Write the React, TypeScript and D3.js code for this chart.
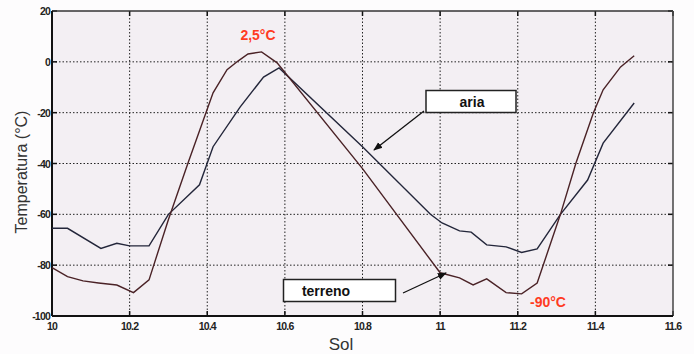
import React from "react";
import * as d3 from "d3";

const terrenoSol = [10.0, 10.04, 10.08, 10.12, 10.167, 10.21, 10.25, 10.3, 10.35, 10.415, 10.451, 10.48, 10.505, 10.54, 10.58, 10.8, 11.0, 11.05, 11.085, 11.12, 11.17, 11.21, 11.25, 11.31, 11.35, 11.395, 11.42, 11.465, 11.5];
const terrenoTemp = [-81, -84.5, -86.2, -87, -87.8, -90.8, -85.8, -62, -40, -12.2, -3.1, 0.4, 3.1, 3.9, -0.4, -42, -83, -85, -87.8, -85.4, -90.8, -91.3, -87, -60, -39.8, -20, -11, -2, 2.4];

const ariaSol = [10.0, 10.04, 10.126, 10.167, 10.2, 10.25, 10.3, 10.38, 10.415, 10.485, 10.545, 10.585, 10.8, 10.975, 11.005, 11.05, 11.08, 11.12, 11.17, 11.21, 11.25, 11.31, 11.38, 11.42, 11.5];
const ariaTemp = [-65.5, -65.5, -73.4, -71.4, -72.4, -72.4, -60, -48.4, -33.4, -17.7, -6, -2.4, -33.4, -60, -63.4, -66.5, -67, -72, -72.8, -75, -73.6, -60, -46.5, -32, -16.2];

const xTicks = [10, 10.2, 10.4, 10.6, 10.8, 11, 11.2, 11.4, 11.6];
const xTickLabels = ["10", "10.2", "10.4", "10.6", "10.8", "11", "11.2", "11.4", "11.6"];
const yTicks = [20, 0, -20, -40, -60, -80, -100];

const W = 694, H = 354;
const L = 52, R = 673, T = 11, B = 316;

export default function App() {
  const x = d3.scaleLinear().domain([10, 11.6]).range([L, R]);
  const y = d3.scaleLinear().domain([-100, 20]).range([B, T]);
  const line = d3.line<[number, number]>().x(d => x(d[0])).y(d => y(d[1]));
  const terreno = terrenoSol.map((s, i) => [s, terrenoTemp[i]] as [number, number]);
  const aria = ariaSol.map((s, i) => [s, ariaTemp[i]] as [number, number]);
  const font = "'Liberation Sans', Arial, sans-serif";

  return (
    <svg width={W} height={H} style={{ position: "fixed", left: 0, top: 0, background: "#fdfcfd" }}>
      <defs>
        <marker id="arr" viewBox="0 0 10 10" refX="9" refY="5" markerWidth="9" markerHeight="9" orient="auto" markerUnits="userSpaceOnUse">
          <path d="M0,1 L10,5 L0,9 z" fill="#111" />
        </marker>
      </defs>
      <rect x={L} y={T} width={R - L} height={B - T} fill="#f3eff3" />
      {xTicks.slice(1, -1).map(t => (
        <line key={"gx" + t} x1={x(t)} x2={x(t)} y1={T} y2={B} stroke="#222" strokeWidth={1} strokeDasharray="1.5,2" />
      ))}
      {yTicks.slice(1, -1).map(t => (
        <line key={"gy" + t} x1={L} x2={R} y1={y(t)} y2={y(t)} stroke="#222" strokeWidth={1} strokeDasharray="1.5,2" />
      ))}
      {xTicks.map(t => (
        <g key={"tx" + t}>
          <line x1={x(t)} x2={x(t)} y1={B} y2={B - 5} stroke="#111" strokeWidth={1.5} />
          <line x1={x(t)} x2={x(t)} y1={T} y2={T + 5} stroke="#111" strokeWidth={1.5} />
        </g>
      ))}
      {yTicks.map(t => (
        <g key={"ty" + t}>
          <line x1={L} x2={L + 5} y1={y(t)} y2={y(t)} stroke="#111" strokeWidth={1.5} />
          <line x1={R} x2={R - 5} y1={y(t)} y2={y(t)} stroke="#111" strokeWidth={1.5} />
        </g>
      ))}
      <line x1={L} x2={R} y1={T} y2={T} stroke="#333" strokeWidth={1.5} />
      <line x1={R} x2={R} y1={T} y2={B} stroke="#444" strokeWidth={1.5} />
      <line x1={L} x2={L} y1={T} y2={B} stroke="#111" strokeWidth={2} />
      <line x1={L} x2={R} y1={B} y2={B} stroke="#111" strokeWidth={2} />
      {yTicks.map(t => (
        <text key={"ly" + t} x={L - 2} y={y(t) + 4} textAnchor="end" fontFamily={font} fontWeight="bold" fontSize={10.5} fill="#222" letterSpacing={-0.8}>{t}</text>
      ))}
      {xTicks.map((t, i) => (
        <text key={"lx" + t} x={x(t)} y={B + 14} textAnchor="middle" fontFamily={font} fontWeight="bold" fontSize={10.5} fill="#222" letterSpacing={-0.8}>{xTickLabels[i]}</text>
      ))}
      <text transform={`translate(27,172) rotate(-90)`} textAnchor="middle" fontFamily={font} fontSize={16} fill="#333">Temperatura (°C)</text>
      <text x={341} y={350} textAnchor="middle" fontFamily={font} fontSize={17} fill="#333">Sol</text>
      <path d={line(aria) || ""} fill="none" stroke="#23263a" strokeWidth={1.4} />
      <path d={line(terreno) || ""} fill="none" stroke="#4a2226" strokeWidth={1.4} />
      <text x={258} y={40} textAnchor="middle" fontFamily={font} fontWeight="bold" fontSize={14} fill="#ff3b1f">2,5°C</text>
      <text x={548} y={307} textAnchor="middle" fontFamily={font} fontWeight="bold" fontSize={14} fill="#ff3b1f">-90°C</text>
      <rect x={426} y={90.5} width={90} height={22} fill="#fff" stroke="#222" strokeWidth={1.5} />
      <text x={472} y={107} textAnchor="middle" fontFamily={font} fontWeight="bold" fontSize={14} fill="#111">aria</text>
      <line x1={424} x2={374} y1={111} y2={150} stroke="#111" strokeWidth={1.3} markerEnd="url(#arr)" />
      <rect x={283.5} y={279.5} width={112} height={22} fill="#fff" stroke="#222" strokeWidth={1.5} />
      <text x={326} y={296} textAnchor="middle" fontFamily={font} fontWeight="bold" fontSize={14} fill="#111">terreno</text>
      <line x1={403} x2={446} y1={293} y2={273} stroke="#111" strokeWidth={1.3} markerEnd="url(#arr)" />
    </svg>
  );
}
